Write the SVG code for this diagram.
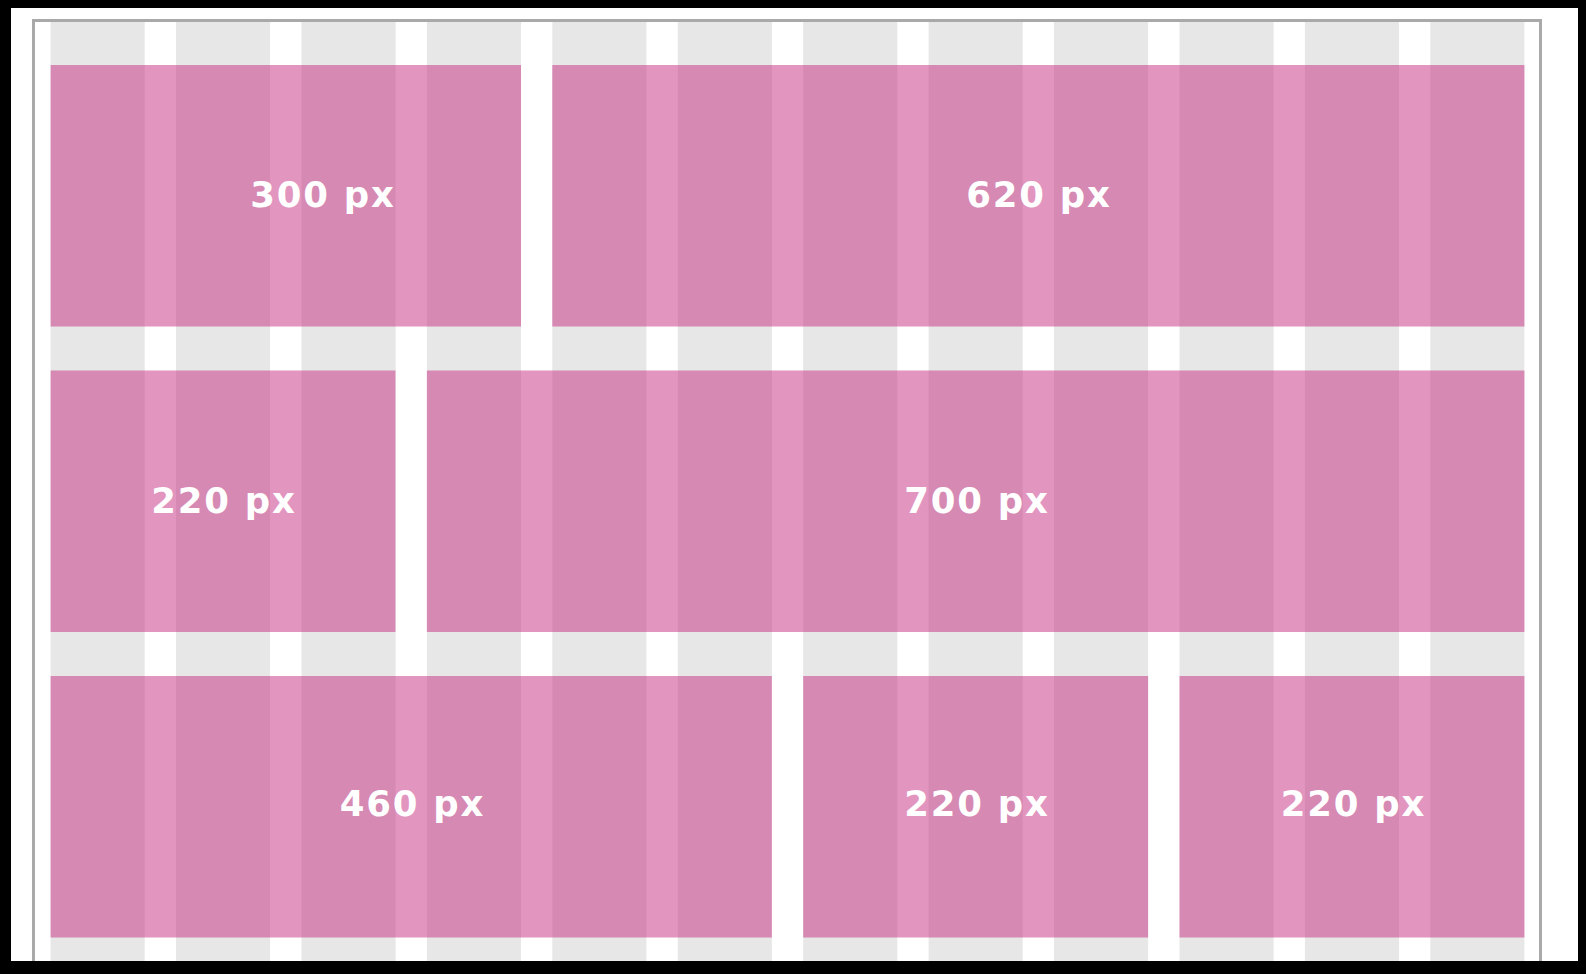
<svg xmlns="http://www.w3.org/2000/svg" width="1586" height="974" viewBox="0 0 1586 974">
  <style>
    .col { fill: #e7e7e7; }
    .box { fill: rgb(200,52,133); fill-opacity: 0.52; }
    .lbl { font-family: "DejaVu Sans", "Liberation Sans", sans-serif; font-weight: bold; font-size: 35.5px; fill: #ffffff; text-anchor: middle; letter-spacing: 1.8px; }
    .frame { fill: none; stroke: #a9a9a9; stroke-width: 3; }
  </style>
  <rect x="0" y="0" width="1586" height="974" fill="#000000"/>
  <rect x="11" y="8" width="1567" height="953" fill="#ffffff"/>
  <g id="grid">
    <rect class="col" x="50.6" y="22" width="94.1" height="939"/>
    <rect class="col" x="176.0" y="22" width="94.1" height="939"/>
    <rect class="col" x="301.5" y="22" width="94.1" height="939"/>
    <rect class="col" x="426.9" y="22" width="94.1" height="939"/>
    <rect class="col" x="552.3" y="22" width="94.1" height="939"/>
    <rect class="col" x="677.8" y="22" width="94.1" height="939"/>
    <rect class="col" x="803.2" y="22" width="94.1" height="939"/>
    <rect class="col" x="928.6" y="22" width="94.1" height="939"/>
    <rect class="col" x="1054.0" y="22" width="94.1" height="939"/>
    <rect class="col" x="1179.5" y="22" width="94.1" height="939"/>
    <rect class="col" x="1304.9" y="22" width="94.1" height="939"/>
    <rect class="col" x="1430.3" y="22" width="94.1" height="939"/>
  </g>
  <g id="box-300">
    <rect class="box" x="50.6" y="65" width="470.4" height="261.5"/>
    <text class="lbl" x="323" y="206.5">300 px</text>
  </g>
  <g id="box-620">
    <rect class="box" x="552.3" y="65" width="972.1" height="261.5"/>
    <text class="lbl" x="1039" y="206.5">620 px</text>
  </g>
  <g id="box-220a">
    <rect class="box" x="50.6" y="370.5" width="344.9" height="261.5"/>
    <text class="lbl" x="224" y="512.5">220 px</text>
  </g>
  <g id="box-700">
    <rect class="box" x="426.9" y="370.5" width="1097.5" height="261.5"/>
    <text class="lbl" x="977" y="512.5">700 px</text>
  </g>
  <g id="box-460">
    <rect class="box" x="50.6" y="676" width="721.2" height="261.5"/>
    <text class="lbl" x="412.5" y="816">460 px</text>
  </g>
  <g id="box-220b">
    <rect class="box" x="803.2" y="676" width="344.9" height="261.5"/>
    <text class="lbl" x="977" y="816">220 px</text>
  </g>
  <g id="box-220c">
    <rect class="box" x="1179.5" y="676" width="344.9" height="261.5"/>
    <text class="lbl" x="1353.5" y="816">220 px</text>
  </g>
  <path class="frame" d="M33.5,961 V20.5 H1540.5 V961"/>
</svg>
